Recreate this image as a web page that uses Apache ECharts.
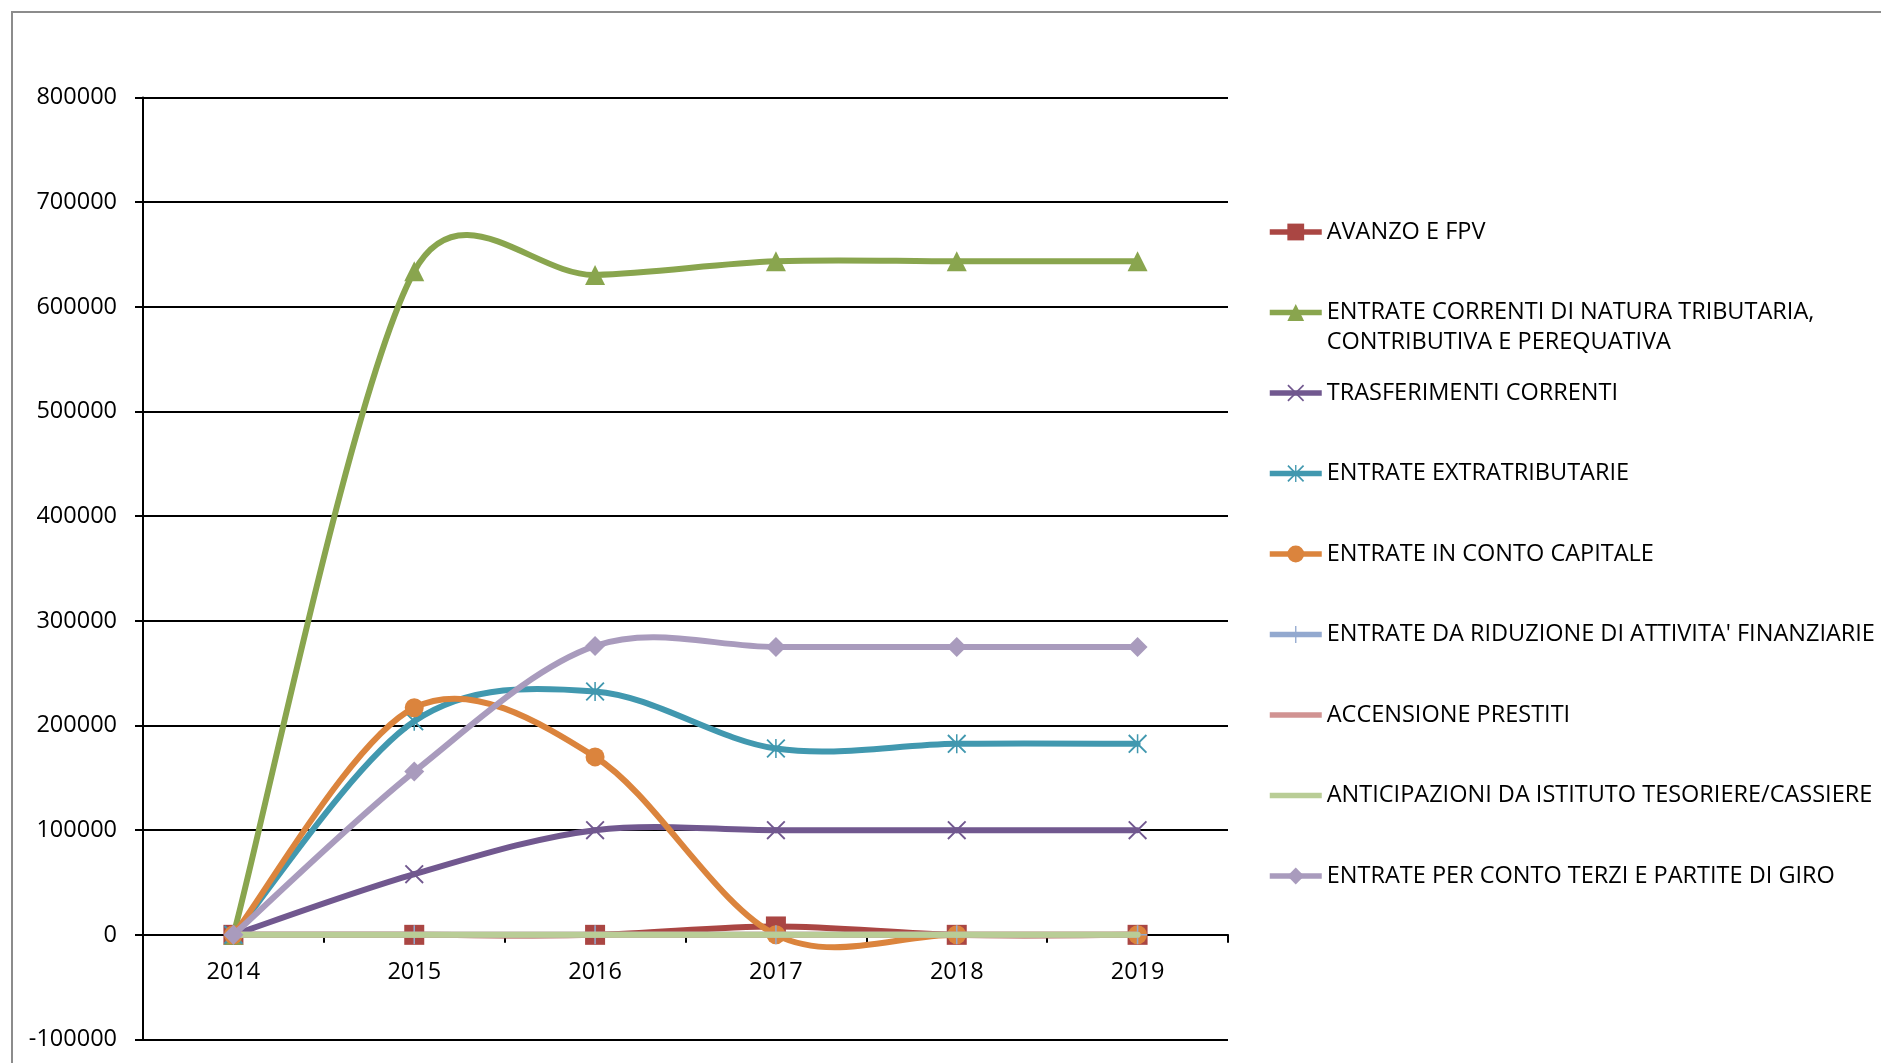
<!DOCTYPE html>
<html>
<head>
<meta charset="utf-8">
<script src="https://cdn.jsdelivr.net/npm/echarts@6/dist/echarts.min.js"></script>
<style>
html,body{margin:0;padding:0;background:#fff;}
#chart{width:1881px;height:1063px;}
</style>
</head>
<body>
<div id="chart"></div>
<script>
// ---------- DATA ----------
const years = ['2014', '2015', '2016', '2017', '2018', '2019'];
const seriesNames = [
  'AVANZO E FPV',
  'ENTRATE CORRENTI DI NATURA TRIBUTARIA,\nCONTRIBUTIVA E PEREQUATIVA',
  'TRASFERIMENTI CORRENTI',
  'ENTRATE EXTRATRIBUTARIE',
  'ENTRATE IN CONTO CAPITALE',
  "ENTRATE DA RIDUZIONE DI ATTIVITA' FINANZIARIE",
  'ACCENSIONE PRESTITI',
  'ANTICIPAZIONI DA ISTITUTO TESORIERE/CASSIERE',
  'ENTRATE PER CONTO TERZI E PARTITE DI GIRO'
];
const avanzo          = [0, 0, 0, 8000, 0, 0];
const correnti        = [0, 634000, 630500, 643500, 643500, 643500];
const trasferimenti   = [0, 58000, 100000, 100000, 100000, 100000];
const extratributarie = [0, 204000, 232500, 178000, 182500, 182500];
const contoCapitale   = [0, 217000, 170000, 0, 0, 0];
const riduzione       = [0, 0, 0, 0, 0, 0];
const prestiti        = [0, 0, 0, 0, 0, 0];
const anticipazioni   = [0, 0, 0, 0, 0, 0];
const contoTerzi      = [0, 156000, 276000, 275000, 275000, 275000];
const yMin = -100000, yMax = 800000, yInterval = 100000;

// ---------- STYLES ----------
const FONT = 'Open Sans';
const X_PATH = 'path://M0,1.4 L1.4,0 L10,8.6 L18.6,0 L20,1.4 L11.4,10 L20,18.6 L18.6,20 L10,11.4 L1.4,20 L0,18.6 L8.6,10 Z';
const STAR_PATH = 'path://M0,1.4 L1.4,0 L10,8.6 L18.6,0 L20,1.4 L11.4,10 L20,18.6 L18.6,20 L10,11.4 L1.4,20 L0,18.6 L8.6,10 Z M9.2,0 L10.8,0 L10.8,20 L9.2,20 Z';
const PLUS_PATH = 'path://M9.2,0 L10.8,0 L10.8,9.2 L20,9.2 L20,10.8 L10.8,10.8 L10.8,20 L9.2,20 L9.2,10.8 L0,10.8 L0,9.2 L9.2,9.2 Z';

const seriesValues = [avanzo, correnti, trasferimenti, extratributarie, contoCapitale,
                      riduzione, prestiti, anticipazioni, contoTerzi];
const styles = [
  {color: '#AA4643', symbol: 'rect', size: 20},
  {color: '#89A54E', symbol: 'triangle', size: 20},
  {color: '#71588F', symbol: X_PATH, size: 19},
  {color: '#4198AF', symbol: STAR_PATH, size: 19},
  {color: '#DB843D', symbol: 'circle', size: 19},
  {color: '#93A9CF', symbol: PLUS_PATH, size: 19},
  {color: '#D19392', symbol: 'circle', size: 0, noMarker: true},
  {color: '#B9CD96', symbol: 'circle', size: 0, noMarker: true},
  {color: '#A99BBD', symbol: 'diamond', size: 20}
];

// Excel-like smoothing (Catmull-Rom style Bezier) drawn through the axes' scales
function makeCurveRenderer(color) {
  return function (params, api) {
    const i = params.dataIndex;
    const n = params.dataInsideLength;
    if (i >= n - 1) return null;
    const P = k => api.coord([api.value(0, k), api.value(1, k)]);
    const p0 = P(i), p1 = P(i + 1);
    const prev = i > 0 ? P(i - 1) : p0;
    const next = i + 2 < n ? P(i + 2) : p1;
    const dist = (a, b) => Math.hypot(a[0] - b[0], a[1] - b[1]);
    const fac = (dSide, dOther) => {
      const avg = (dSide + dOther) / 2;
      if (avg <= 0) return 1 / 6;
      return (1 / 6) * Math.min(1, Math.pow(dSide / avg, 0.3));
    };
    const v0 = [p1[0] - prev[0], p1[1] - prev[1]];
    const f0 = fac(dist(p0, p1), dist(prev, p0));
    const v1 = [next[0] - p0[0], next[1] - p0[1]];
    const f1 = fac(dist(p0, p1), dist(p1, next));
    return {
      type: 'bezierCurve',
      silent: true,
      shape: {
        x1: p0[0], y1: p0[1], x2: p1[0], y2: p1[1],
        cpx1: p0[0] + v0[0] * f0, cpy1: p0[1] + v0[1] * f0,
        cpx2: p1[0] - v1[0] * f1, cpy2: p1[1] - v1[1] * f1
      },
      style: {stroke: color, lineWidth: 6, fill: 'none', lineCap: 'round', lineJoin: 'round'}
    };
  };
}

const series = [];
seriesNames.forEach((name, idx) => {
  const st = styles[idx];
  const vals = seriesValues[idx];
  series.push({
    type: 'line',
    name: name,
    data: vals,
    z: 3 + idx * 2,
    symbol: st.symbol,
    symbolSize: st.size,
    showSymbol: !st.noMarker,
    showAllSymbol: true,
    smooth: false,
    itemStyle: {color: st.color, opacity: 1},
    lineStyle: {color: st.color, width: 0, opacity: 0},
    emphasis: {disabled: true},
    animation: false
  });
  series.push({
    type: 'custom',
    name: name,
    data: vals.map((v, k) => [k, v]),
    z: 2 + idx * 2,
    renderItem: makeCurveRenderer(st.color),
    silent: true,
    animation: false
  });
});

const legendFirstCenter = 232, legendStep = 80.5;
const legends = seriesNames.map((name, idx) => {
  const st = styles[idx];
  const twoLines = name.indexOf('\n') >= 0;
  const center = legendFirstCenter + legendStep * idx;
  return {
    orient: 'vertical',
    left: 1267,
    top: twoLines ? center - 45 : center - 15,
    padding: 0,
    itemGap: 0,
    itemWidth: 52,
    itemHeight: 21,
    data: [name],
    formatter: n => (n.indexOf('\n') >= 0 ? ' \n' + n : n),
    textStyle: {fontFamily: FONT, fontSize: 23.5, color: '#000', lineHeight: 30},
    lineStyle: {width: 5.5, opacity: 1, color: st.color},
    itemStyle: st.noMarker ? {opacity: 0} : {color: st.color, opacity: 1}
  };
});

const GRID_TOP = 97.5, GRID_BOTTOM = 23.5, CHART_H = 1063;
const gridH = CHART_H - GRID_TOP - GRID_BOTTOM;
const zeroOffset = -gridH * (0 - yMin) / (yMax - yMin);

const chart = echarts.init(document.getElementById('chart'), null, {renderer: 'canvas'});
chart.setOption({
  animation: false,
  backgroundColor: '#fff',
  textStyle: {fontFamily: FONT},
  graphic: [{
    type: 'rect',
    silent: true,
    z: -10,
    shape: {x: 12, y: 12, width: 2400, height: 2400},
    style: {fill: 'none', stroke: '#8c8c8c', lineWidth: 2}
  }],
  grid: {
    left: 143, right: 653, top: GRID_TOP, bottom: GRID_BOTTOM,
    containLabel: false, outerBoundsMode: 'none'
  },
  legend: legends,
  xAxis: {
    type: 'category',
    data: years,
    boundaryGap: true,
    offset: zeroOffset,
    axisLine: {show: true, onZero: false, lineStyle: {color: '#000', width: 2}},
    axisTick: {show: true, length: 8, alignWithLabel: false, lineStyle: {color: '#000', width: 2}},
    axisLabel: {fontFamily: FONT, fontSize: 23.5, color: '#000', margin: 25},
    splitLine: {show: false}
  },
  yAxis: {
    type: 'value',
    min: yMin, max: yMax, interval: yInterval,
    axisLine: {show: true, lineStyle: {color: '#000', width: 2}},
    axisTick: {show: true, length: 8, lineStyle: {color: '#000', width: 2}},
    axisLabel: {fontFamily: FONT, fontSize: 23.5, color: '#000', margin: 26,
                formatter: v => String(v)},
    splitLine: {show: true, lineStyle: {color: '#000', width: 2}}
  },
  series: series
});
</script>
</body>
</html>
